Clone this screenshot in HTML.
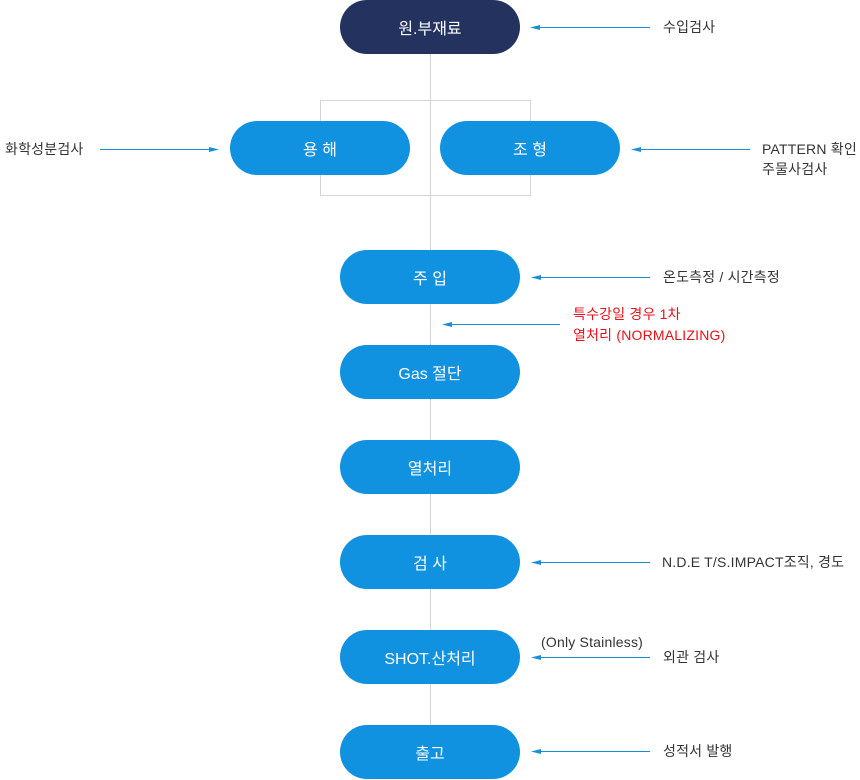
<!DOCTYPE html>
<html><head><meta charset="utf-8"><style>
body{margin:0;width:860px;height:780px;background:#fff;position:relative;overflow:hidden;font-family:"Liberation Sans","Noto Sans CJK KR",sans-serif;}
.p{position:absolute;width:180px;height:54px;border-radius:27px;background:#1192e0;color:#fff;font-size:16px;display:flex;align-items:center;justify-content:center;}
.t{position:absolute;font-size:14px;letter-spacing:0.2px;color:#333;line-height:20px;white-space:nowrap;}
</style></head><body>
<svg width="860" height="780" style="position:absolute;left:0;top:0">
<g stroke="#d4d4d4" stroke-width="1" fill="none">
<line x1="430.5" y1="54" x2="430.5" y2="730"/>
<rect x="320.5" y="100.5" width="210" height="95"/>
</g>
<g stroke="#1a8fd8" stroke-width="1">
<line x1="534" y1="27.5" x2="650" y2="27.5"/>
<line x1="100" y1="149.5" x2="214" y2="149.5"/>
<line x1="636" y1="149.5" x2="750" y2="149.5"/>
<line x1="536" y1="277.5" x2="650" y2="277.5"/>
<line x1="447" y1="324.5" x2="560" y2="324.5"/>
<line x1="536" y1="562.5" x2="650" y2="562.5"/>
<line x1="536" y1="657.5" x2="650" y2="657.5"/>
<line x1="536" y1="751.5" x2="650" y2="751.5"/>
</g>
<g fill="#1a8fd8">
<polygon points="530,27.5 540,25 540,30"/>
<polygon points="219,149.5 209,147 209,152"/>
<polygon points="631,149.5 641,147 641,152"/>
<polygon points="531,277.5 541,275 541,280"/>
<polygon points="442,324.5 452,322 452,327"/>
<polygon points="531,562.5 541,560 541,565"/>
<polygon points="531,657.5 541,655 541,660"/>
<polygon points="531,751.5 541,749 541,754"/>
</g>
</svg>
<div class="p" style="left:340px;top:0;background:#243260">원.부재료</div>
<div class="p" style="left:230px;top:121px">용 해</div>
<div class="p" style="left:440px;top:121px">조 형</div>
<div class="p" style="left:340px;top:250px">주 입</div>
<div class="p" style="left:340px;top:345px">Gas 절단</div>
<div class="p" style="left:340px;top:440px">열처리</div>
<div class="p" style="left:340px;top:535px">검 사</div>
<div class="p" style="left:340px;top:630px">SHOT.산처리</div>
<div class="p" style="left:340px;top:725px">출고</div>
<div class="t" style="left:663px;top:17px">수입검사</div>
<div class="t" style="left:5px;top:139px">화학성분검사</div>
<div class="t" style="left:762px;top:139px">PATTERN 확인<br>주물사검사</div>
<div class="t" style="left:663px;top:267px">온도측정 / 시간측정</div>
<div class="t" style="left:573px;top:304px;color:#e8101a;line-height:21px">특수강일 경우 1차<br>열처리 (NORMALIZING)</div>
<div class="t" style="left:662px;top:552px">N.D.E T/S.IMPACT조직, 경도</div>
<div class="t" style="left:541px;top:632px">(Only Stainless)</div>
<div class="t" style="left:663px;top:647px">외관 검사</div>
<div class="t" style="left:663px;top:741px">성적서 발행</div>
</body></html>
